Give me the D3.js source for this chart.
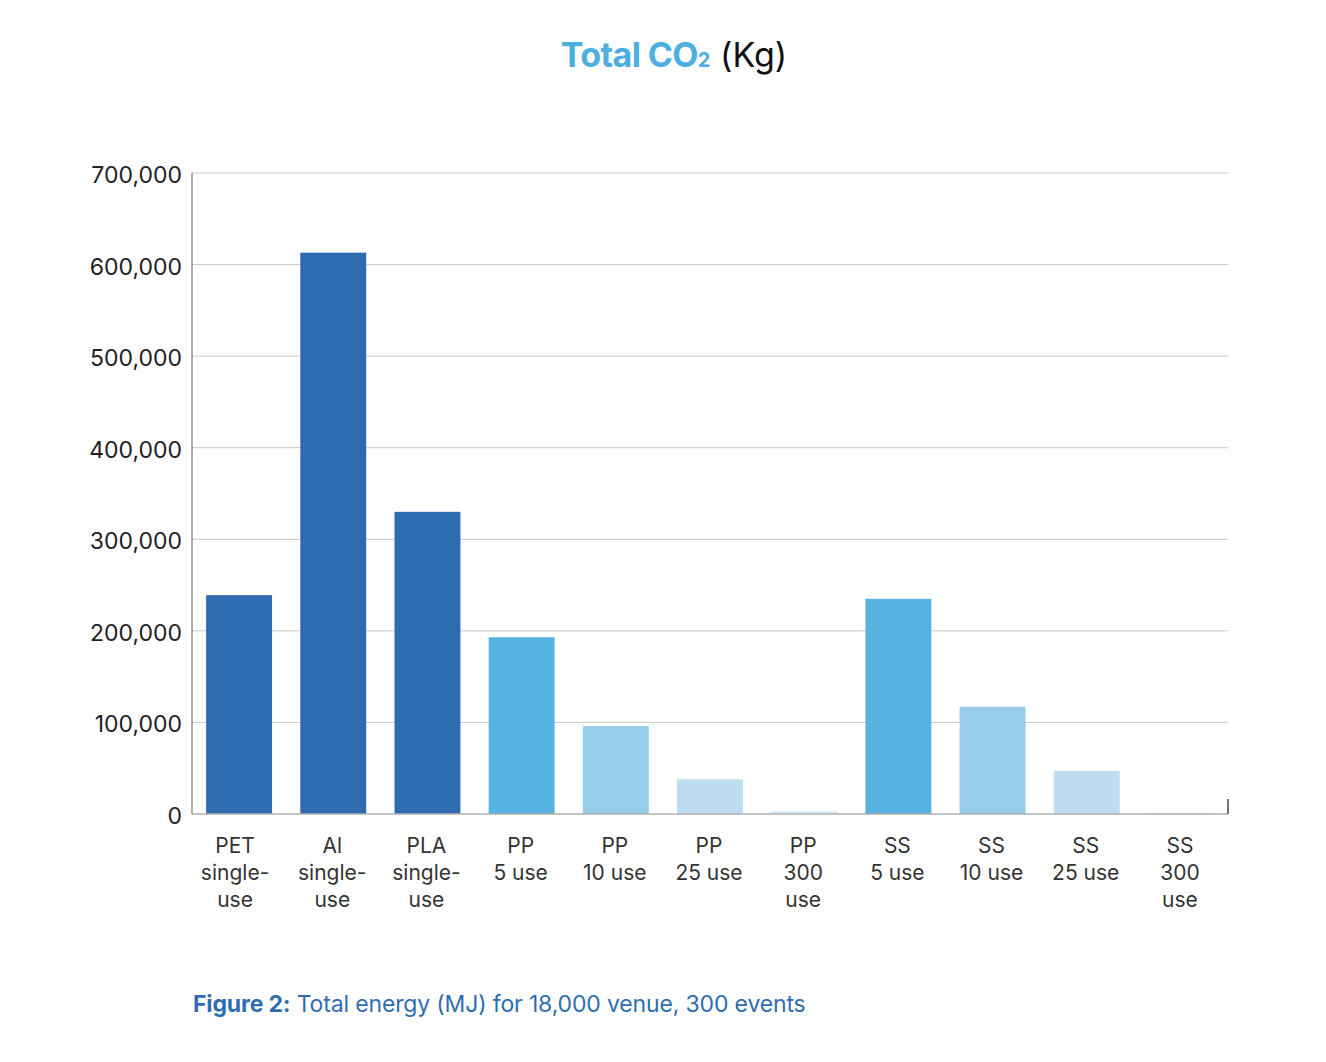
<!DOCTYPE html>
<html><head><meta charset="utf-8">
<script src="https://cdn.jsdelivr.net/npm/d3@7"></script>
<style>body{margin:0;background:#fff;font-family:Inter,"Noto Sans",sans-serif;}</style>
</head><body>
<svg id="c" width="1326" height="1062"></svg>
<script>
const categories = [["PET","single-","use"],["Al","single-","use"],["PLA","single-","use"],["PP","5 use"],["PP","10 use"],["PP","25 use"],["PP","300","use"],["SS","5 use"],["SS","10 use"],["SS","25 use"],["SS","300","use"]];
const values = [239000, 613000, 330000, 193000, 96000, 38000, 3300, 235000, 117000, 47000, 1000];
const colors = ["#2F6BAF","#2F6BAF","#2F6BAF","#56B2E0","#95CDEA","#BEDDF1","#DCEBF8","#56B2E0","#95CDEA","#BEDDF1","#DCEBF8"];
const yTicks = [0,100000,200000,300000,400000,500000,600000,700000];

const svg = d3.select("#c");
const pLeft = 192, pRight = 1228, pTop = 173, pBottom = 814;
const x = d3.scaleBand().domain(d3.range(categories.length)).range([pLeft,pRight]).paddingInner(0.3).paddingOuter(0.15);
const y = d3.scaleLinear().domain([0,700000]).range([pBottom,pTop]);

// gridlines
svg.append("g").selectAll("line").data(yTicks.filter(d=>d>0)).join("line")
  .attr("x1",pLeft).attr("x2",pRight).attr("y1",d=>y(d)).attr("y2",d=>y(d))
  .attr("stroke","#c9c9c9").attr("stroke-width",1);

// bars
svg.append("g").selectAll("rect").data(values).join("rect")
  .attr("x",(d,i)=>x(i)).attr("width",x.bandwidth())
  .attr("y",d=>y(d)).attr("height",d=>pBottom-y(d))
  .attr("fill",(d,i)=>colors[i]);

// baseline
svg.append("line").attr("x1",pLeft).attr("x2",pRight).attr("y1",pBottom).attr("y2",pBottom).attr("stroke","#b0b0b0").attr("stroke-width",1.5);
// left axis line
svg.append("line").attr("x1",pLeft).attr("x2",pLeft).attr("y1",pTop).attr("y2",pBottom).attr("stroke","#777").attr("stroke-width",1.2);
// right tick
svg.append("line").attr("x1",pRight).attr("x2",pRight).attr("y1",pBottom-15).attr("y2",pBottom).attr("stroke","#444").attr("stroke-width",1.5);

// y tick labels
const fmt = d3.format(",");
svg.append("g").selectAll("text").data(yTicks).join("text")
  .attr("x",182).attr("y",d=>y(d)+10).attr("text-anchor","end")
  .attr("font-size",23).attr("fill","#222")
  .text(d=>fmt(d));

// x labels
const xl = svg.append("g").selectAll("text").data(categories).join("text")
  .attr("text-anchor","middle").attr("font-size",21).attr("fill","#333")
  .attr("x",(d,i)=>x(i)+x.bandwidth()/2 - (i===0?4:1));
xl.selectAll("tspan").data(d=>d).join("tspan")
  .attr("x",function(){return this.parentNode.getAttribute("x");})
  .attr("y",(d,j)=>853+j*27).text(d=>d);

// title
const t = svg.append("text").attr("x",674).attr("y",67).attr("text-anchor","middle").attr("font-size",34);
t.append("tspan").attr("font-weight","bold").attr("fill","#4DAEE0").attr("letter-spacing","-0.6").text("Total CO");
t.append("tspan").attr("font-weight","bold").attr("fill","#4DAEE0").attr("font-size",20).text("2");
t.append("tspan").attr("fill","#111").text(" (Kg)");

// caption
const c = svg.append("text").attr("x",193).attr("y",1012).attr("font-size",23).attr("fill","#2E6DB1").attr("letter-spacing","-0.15");
c.append("tspan").attr("font-weight","bold").text("Figure 2:");
c.append("tspan").text(" Total energy (MJ) for 18,000 venue, 300 events");
</script>
</body></html>
